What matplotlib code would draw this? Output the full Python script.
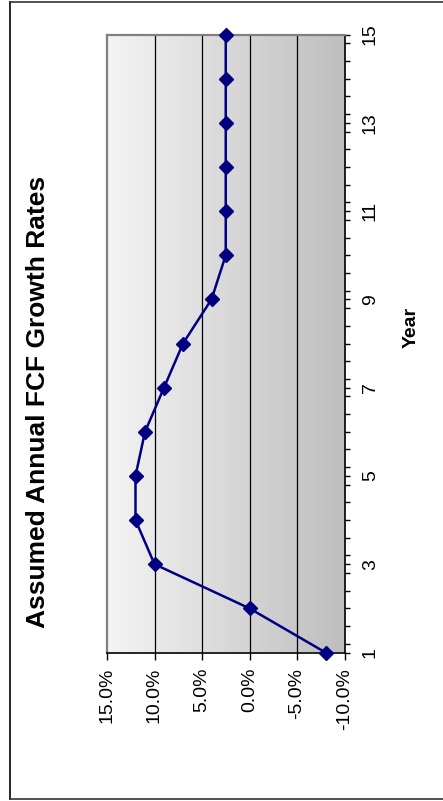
import matplotlib
matplotlib.use("Agg")
import matplotlib.pyplot as plt
import numpy as np
from matplotlib.lines import Line2D
from matplotlib.ticker import MultipleLocator, FixedLocator
from matplotlib.colors import LinearSegmentedColormap

plt.rcParams['font.family'] = ['Liberation Sans', 'DejaVu Sans']

years = [1, 2, 3, 4, 5, 6, 7, 8, 9, 10, 11, 12, 13, 14, 15]
growth = [-8.0, 0.0, 10.0, 12.0, 12.0, 11.0, 9.0, 7.0, 4.0, 2.5, 2.5, 2.5, 2.5, 2.5, 2.5]
value_ticks = [15, 10, 5, 0, -5, -10]
value_labels = ["15.0%", "10.0%", "5.0%", "0.0%", "-5.0%", "-10.0%"]
year_ticks = [1, 3, 5, 7, 9, 11, 13, 15]
title = "Assumed Annual FCF Growth Rates"
xlabel = "Year"

W, H = 443, 801
fig = plt.figure(figsize=(W / 100, H / 100), dpi=100)
fig.patch.set_facecolor("white")

L, R, T, B = 107, 344.5, 34.5, 652.5
ax = fig.add_axes([L / W, 1 - B / H, (R - L) / W, (B - T) / H])

# gradient background
grad = np.linspace(0, 1, 256).reshape(1, -1)
cmap = LinearSegmentedColormap.from_list("g", ["#f4f4f4", "#bebebe"])
ax.imshow(grad, extent=[0, 1, 0, 1], transform=ax.transAxes, cmap=cmap,
          aspect="auto", zorder=0)

ax.set_xlim(15, -10)
ax.set_ylim(1, 15)

for v in value_ticks[1:-1]:
    ax.axvline(v, color="black", lw=0.9, zorder=1)

ax.plot(growth, years, color="#000080", lw=1.8, marker="D", ms=7,
        markeredgecolor="#000080", markerfacecolor="#000080", zorder=3,
        clip_on=False)

ax.xaxis.set_major_locator(FixedLocator(value_ticks))
ax.set_xticklabels(value_labels, rotation=90, fontsize=14)
ax.yaxis.tick_right()
ax.yaxis.set_major_locator(FixedLocator(year_ticks))
ax.yaxis.set_minor_locator(MultipleLocator(0.4))
ax.set_yticklabels([str(y) for y in year_ticks], rotation=90, fontsize=14,
                   va="center")
ax.tick_params(axis="x", direction="out", length=5, width=1, pad=6,
               color="black")
ax.tick_params(axis="y", which="both", direction="out", length=3.6, width=1,
               pad=9, color="black")

for s in ["left", "top"]:
    ax.spines[s].set_color("#808080")
    ax.spines[s].set_linewidth(1.6)
for s in ["right", "bottom"]:
    ax.spines[s].set_color("black")
    ax.spines[s].set_linewidth(1.2)

fig.text(38 / W, 1 - 402 / H, title, rotation=90, fontsize=19,
         fontweight="bold", ha="center", va="center")
fig.text(411 / W, 1 - 327 / H, xlabel, rotation=90, fontsize=14,
         fontweight="bold", ha="center", va="center")

# outer frame
fig.add_artist(Line2D([9.5 / W, 9.5 / W], [1 - 2 / H, 1 - 799 / H],
                      transform=fig.transFigure, color="black", lw=1.2))
fig.add_artist(Line2D([9.5 / W, 1], [1 - 2 / H, 1 - 2 / H],
                      transform=fig.transFigure, color="#333333", lw=1.2))
fig.add_artist(Line2D([9.5 / W, 1], [1 - 799 / H, 1 - 799 / H],
                      transform=fig.transFigure, color="#333333", lw=1.2))

fig.savefig("out.png", dpi=100)
